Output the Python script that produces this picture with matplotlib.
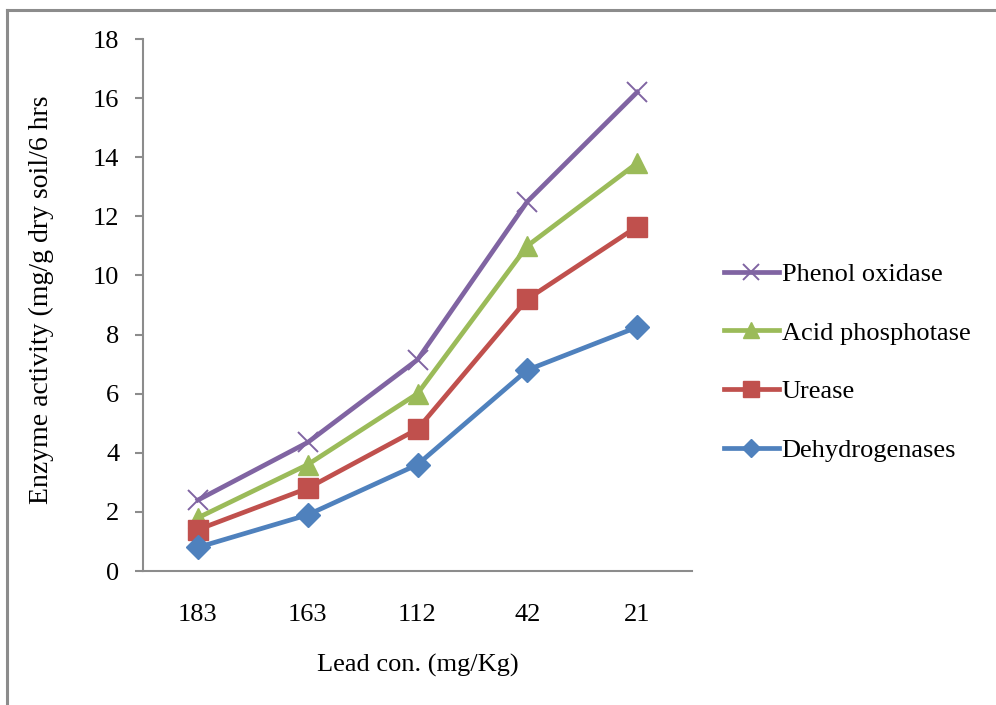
import matplotlib
matplotlib.use("Agg")
import matplotlib.pyplot as plt
from matplotlib.lines import Line2D

plt.rcParams['font.family'] = ['Liberation Serif', 'DejaVu Serif']

categories = ['183', '163', '112', '42', '21']
phenol_oxidase = [2.4, 4.35, 7.15, 12.5, 16.2]
acid_phosphotase = [1.8, 3.6, 6.0, 11.0, 13.8]
urease = [1.4, 2.8, 4.8, 9.2, 11.65]
dehydrogenases = [0.8, 1.9, 3.6, 6.8, 8.25]

W, H = 996, 705
fig = plt.figure(figsize=(W / 100, H / 100), dpi=100)

# outer frame
fig.add_artist(Line2D([7 / W, 7 / W], [0, 1 - 9.5 / H], color='#8c8c8c', lw=2.2))
fig.add_artist(Line2D([7 / W, 1], [1 - 9.5 / H, 1 - 9.5 / H], color='#8c8c8c', lw=2.2))

left, right, bottom, top = 143, 692, 571, 39
ax = fig.add_axes([left / W, 1 - bottom / H, (right - left) / W, (bottom - top) / H])

x = list(range(len(categories)))
series = [
    ('Phenol oxidase', phenol_oxidase, '#8064A2', 'x', 15, 1.4),
    ('Acid phosphotase', acid_phosphotase, '#9BBB59', '^', 15, 1),
    ('Urease', urease, '#C0504D', 's', 14, 1),
    ('Dehydrogenases', dehydrogenases, '#4F81BD', 'D', 12, 1),
]
handles = []
for name, vals, col, mk, ms, mew in series:
    h, = ax.plot(x, vals, color=col, lw=3.4, marker=mk, markersize=ms,
                 markeredgewidth=mew, markerfacecolor=col, markeredgecolor=col,
                 label=name, clip_on=False)
    handles.append(h)

ax.set_xlim(-0.5, 4.5)
ax.set_ylim(0, 18)
ax.set_yticks(range(0, 19, 2))
ax.set_xticks(x)
ax.set_xticklabels(categories)
for s in ['top', 'right']:
    ax.spines[s].set_visible(False)
for s in ['left', 'bottom']:
    ax.spines[s].set_color('#8c8c8c')
    ax.spines[s].set_linewidth(1.5)
ax.tick_params(axis='y', direction='out', length=6, width=1.5, color='#8c8c8c',
               labelsize=19, pad=11)
ax.tick_params(axis='x', length=0, labelsize=19, pad=24)

ax.set_xlabel('Lead con. (mg/Kg)', fontsize=19, labelpad=20)
ax.set_ylabel('Enzyme activity (mg/g dry soil/6 hrs', fontsize=20, labelpad=28)
ax.yaxis.label.set_y(0.51)

leg = fig.legend(handles=handles, loc='upper left',
                 bbox_to_anchor=(713 / W, 1 - 252 / H), frameon=False,
                 fontsize=19, handlelength=2.1, handletextpad=0.1,
                 labelspacing=1.33, borderaxespad=0, markerscale=0.8)

fig.savefig('out.png', dpi=100)
